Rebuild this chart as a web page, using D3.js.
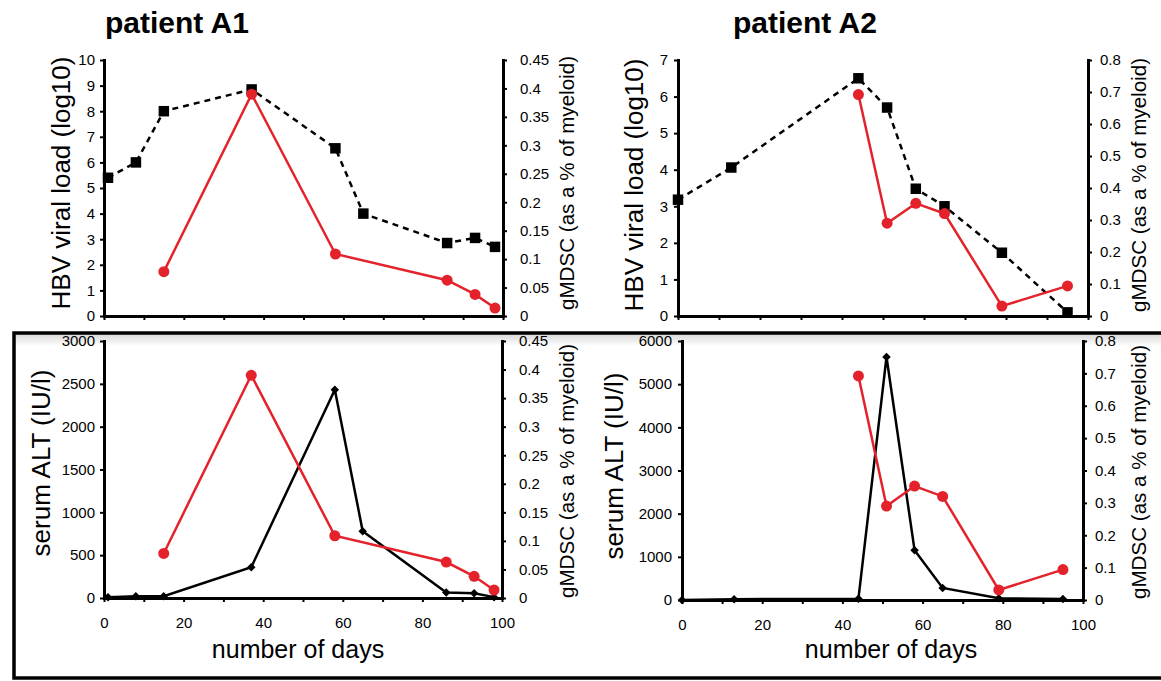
<!DOCTYPE html>
<html lang="en">
<head>
    <meta charset="UTF-8">
    <script src="https://d3js.org/d3.v7.min.js"></script>
    <title>patients A1 A2</title>
    <style>
        body { margin: 0; background: #fff; }
        svg text { font-family: "Liberation Sans", Arial, sans-serif; fill: #000; }
    </style>
</head>
<body>
    <div id="chart"></div>

    <script>
      // patient A1
      var daysA1 = [1, 8, 15, 37, 58, 65, 86, 93, 98];
      var hbvA1 = [5.4, 6.0, 8.0, 8.85, 6.55, 4.0, 2.85, 3.05, 2.7];
      var altA1 = [10, 20, 20, 360, 2430, 780, 65, 55, 10];
      var mdscDaysA1 = [15, 37, 58, 86, 93, 98];
      var mdscA1 = [0.078, 0.39, 0.109, 0.063, 0.038, 0.014];

      // patient A2
      var daysA2 = [0, 13, 44, 51, 58, 65, 79, 95];
      var hbvA2 = [3.18, 4.06, 6.5, 5.7, 3.48, 3.0, 1.73, 0.1];
      var altA2 = [0, 20, 30, 5630, 1150, 280, 40, 25];
      var mdscDaysA2 = [44, 51, 58, 65, 79, 95];
      var mdscA2 = [0.692, 0.29, 0.352, 0.32, 0.031, 0.094];

      // tick labels
      var dayTicks = [0, 10, 20, 30, 40, 50, 60, 70, 80, 90, 100];
      var hbvTicksA1 = [0, 1, 2, 3, 4, 5, 6, 7, 8, 9, 10];
      var hbvTicksA2 = [0, 1, 2, 3, 4, 5, 6, 7];
      var altTicksA1 = [0, 500, 1000, 1500, 2000, 2500, 3000];
      var altTicksA2 = [0, 1000, 2000, 3000, 4000, 5000, 6000];
      var mdscTicksA1 = [0, 0.05, 0.1, 0.15, 0.2, 0.25, 0.3, 0.35, 0.4, 0.45];
      var mdscTicksA2 = [0, 0.1, 0.2, 0.3, 0.4, 0.5, 0.6, 0.7, 0.8];

      var RED = "#e3222b";

      var svg = d3.select("#chart").append("svg")
          .attr("width", 1161).attr("height", 681);

      // frame round the lower row
      var defs = svg.append("defs");
      var grad = defs.append("linearGradient").attr("id", "shade")
          .attr("x1", 0).attr("y1", 0).attr("x2", 0).attr("y2", 1);
      grad.append("stop").attr("offset", 0).attr("stop-color", "#d8d8d8");
      grad.append("stop").attr("offset", 1).attr("stop-color", "#fff");
      svg.append("rect").attr("x", 15).attr("y", 334).attr("width", 1150).attr("height", 12)
          .attr("fill", "url(#shade)");
      svg.append("rect").attr("x", 14).attr("y", 333).attr("width", 1160).attr("height", 345)
          .attr("fill", "none").attr("stroke", "#000").attr("stroke-width", 3.5);

      svg.append("text").attr("x", 105).attr("y", 33).attr("font-size", 30).attr("font-weight", "bold")
          .text("patient A1");
      svg.append("text").attr("x", 733).attr("y", 33).attr("font-size", 30).attr("font-weight", "bold")
          .text("patient A2");

      function panel(p){
        var x = d3.scaleLinear().domain([0, 100]).range([p.left, p.right]);
        var yL = d3.scaleLinear().domain(p.leftDomain).range([p.bottom, p.top]);
        var yR = d3.scaleLinear().domain(p.rightDomain).range([p.bottom, p.top]);
        var g = svg.append("g");

        var xa = d3.axisBottom(x).tickValues(dayTicks).tickSize(4).tickSizeOuter(0).tickPadding(15)
            .tickFormat(d => (p.showDays && d % 20 == 0) ? d : "");
        var la = d3.axisLeft(yL).tickValues(p.leftTicks).tickSize(4).tickSizeOuter(0).tickPadding(p.lpad)
            .tickFormat(d => d);
        var ra = d3.axisRight(yR).tickValues(p.rightTicks).tickSize(4).tickSizeOuter(0).tickPadding(p.rpad)
            .tickFormat(d => +d.toFixed(2));

        [[xa, "translate(0," + p.bottom + ")"], [la, "translate(" + p.left + ",0)"], [ra, "translate(" + p.right + ",0)"]]
          .forEach(function(a){
            var ax = g.append("g").attr("transform", a[1]).call(a[0]);
            ax.selectAll("text").attr("font-size", 15).style("font-family", "Liberation Sans, Arial, sans-serif");
            ax.select(".domain").attr("stroke-width", 3).attr("stroke-linecap", "square");
            ax.selectAll(".tick line").attr("stroke-width", 2);
          });

        // black series
        var blk = p.days.map((d, i) => [d, p.black[i]]);
        g.append("path").datum(blk)
            .attr("d", d3.line().x(d => x(d[0])).y(d => yL(d[1])))
            .attr("fill", "none").attr("stroke", "#000").attr("stroke-width", 2.5)
            .attr("stroke-dasharray", p.dashed ? "6,5" : null);
        g.selectAll(".bm").data(blk).enter().append("path")
            .attr("transform", d => "translate(" + x(d[0]) + "," + yL(d[1]) + ")" + (p.dashed ? "" : " rotate(45)"))
            .attr("d", d3.symbol().type(d3.symbolSquare).size(p.dashed ? 110 : 36)())
            .attr("fill", "#000");

        // red gMDSC series
        var red = p.mdscDays.map((d, i) => [d, p.mdsc[i]]);
        g.append("path").datum(red)
            .attr("d", d3.line().x(d => x(d[0])).y(d => yR(d[1])))
            .attr("fill", "none").attr("stroke", RED).attr("stroke-width", 2.5);
        g.selectAll(".rm").data(red).enter().append("circle")
            .attr("cx", d => x(d[0])).attr("cy", d => yR(d[1])).attr("r", 5.5)
            .attr("fill", RED);

        // axis titles
        g.append("text").attr("transform", "translate(" + p.ltx + "," + p.lty + ") rotate(-90)")
            .attr("text-anchor", "middle").attr("font-size", 26).text(p.leftTitle);
        g.append("text").attr("transform", "translate(" + p.rtx + "," + p.rty + ") rotate(-90)")
            .attr("text-anchor", "middle").attr("font-size", 20).attr("textLength", 254)
            .attr("lengthAdjust", "spacingAndGlyphs").text("gMDSC (as a % of myeloid)");
        if (p.showDays) {
          g.append("text").attr("x", p.dtx).attr("y", 658).attr("text-anchor", "middle")
              .attr("font-size", 25).text("number of days");
        }
      }

      panel({left: 104, right: 503, top: 60, bottom: 316, days: daysA1, black: hbvA1, dashed: true,
             mdscDays: mdscDaysA1, mdsc: mdscA1, leftDomain: [0, 10], rightDomain: [0, 0.45],
             leftTicks: hbvTicksA1, rightTicks: mdscTicksA1, lpad: 5, rpad: 13, showDays: false,
             leftTitle: "HBV viral load (log10)", ltx: 70, lty: 183, rtx: 574, rty: 183});
      panel({left: 678, right: 1088, top: 60, bottom: 316, days: daysA2, black: hbvA2, dashed: true,
             mdscDays: mdscDaysA2, mdsc: mdscA2, leftDomain: [0, 7], rightDomain: [0, 0.8],
             leftTicks: hbvTicksA2, rightTicks: mdscTicksA2, lpad: 6, rpad: 8, showDays: false,
             leftTitle: "HBV viral load (log10)", ltx: 643, lty: 185, rtx: 1146, rty: 185});
      panel({left: 104, right: 502, top: 341, bottom: 598, days: daysA1, black: altA1, dashed: false,
             mdscDays: mdscDaysA1, mdsc: mdscA1, leftDomain: [0, 3000], rightDomain: [0, 0.45],
             leftTicks: altTicksA1, rightTicks: mdscTicksA1, lpad: 5, rpad: 13, showDays: true, dtx: 298,
             leftTitle: "serum ALT (IU/l)", ltx: 50, lty: 463, rtx: 574, rty: 471});
      panel({left: 682, right: 1083, top: 341, bottom: 600, days: daysA2, black: altA2, dashed: false,
             mdscDays: mdscDaysA2, mdsc: mdscA2, leftDomain: [0, 6000], rightDomain: [0, 0.8],
             leftTicks: altTicksA2, rightTicks: mdscTicksA2, lpad: 6, rpad: 8, showDays: true, dtx: 891,
             leftTitle: "serum ALT (IU/l)", ltx: 623, lty: 466, rtx: 1146, rty: 472});
    </script>
</body>
</html>
